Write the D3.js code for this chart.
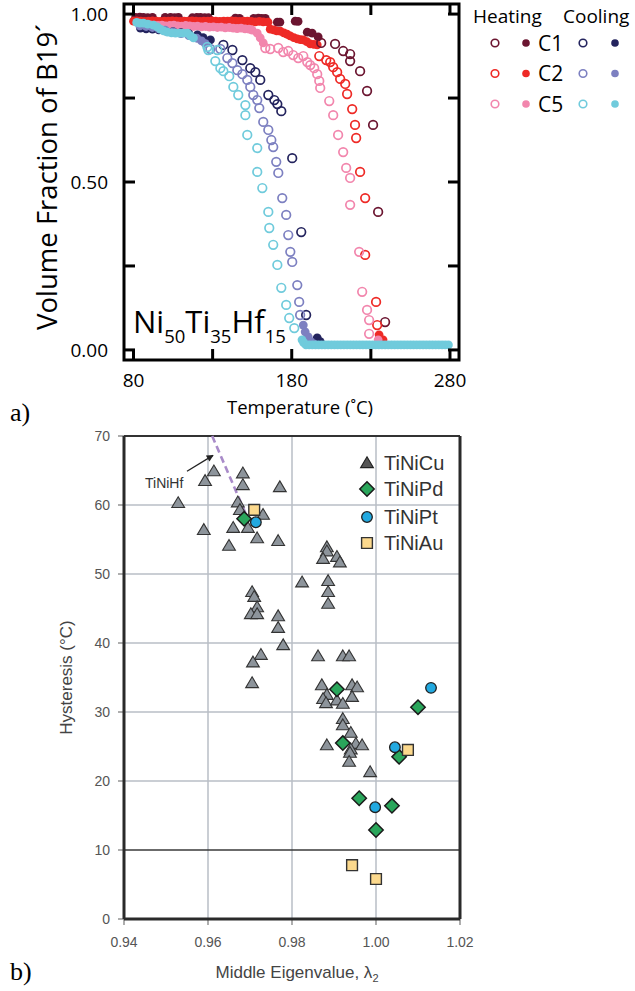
<!DOCTYPE html>
<html>
<head>
<meta charset="utf-8">
<script src="https://cdn.jsdelivr.net/npm/d3@7/dist/d3.min.js"></script>
<style>
  html, body { margin: 0; padding: 0; background: #fff; }
  svg { display: block; }
</style>
</head>
<body>
<svg id="fig" width="635" height="991"></svg>
<script>
// ---------- Panel a: B19' volume fraction vs temperature ----------
// [temperature (°C), volume fraction]
const c1HeatFilled = [[81.3,.990],[84,.991],[86.3,.990],[89,.989],[92,.990],[100,.990],[103.4,.990],[106,.989],[108.4,.990],[117.2,.989],[120,.990],[122.3,.990],[125,.989],[127.4,.989],[144.4,.988],[147,.987],[156,.987],[158.9,.988],[161,.987],[163.3,.987],[170.9,.976],[172.5,.976],[182.2,.979],[184,.978],[189.8,.946],[192.9,.943],[196.7,.932]];
const c1HeatOpen = [[198.6,.914],[207.4,.911],[212.5,.890],[216.9,.881],[216.9,.860],[223.2,.830],[227.6,.771],[231.4,.670],[234.6,.411],[239,.083]];

const c2HeatFilled = [[80,.979],[82,.980],[84.5,.979],[87,.978],[89.5,.979],[92,.980],[94.5,.979],[97,.978],[99.5,.979],[102,.979],[104.5,.980],[107,.979],[109.5,.978],[112,.979],[114.5,.979],[117,.980],[119.5,.979],[122,.978],[124.5,.979],[127,.979],[129.5,.980],[132,.979],[134.5,.978],[137,.979],[139.5,.979],[142,.980],[144.5,.979],[147,.978],[149.5,.979],[152,.979],[154.5,.978],[157,.977],[159.5,.978],[162,.977],[165,.976],[166.4,.955],[168.5,.953],[170.5,.950],[172.7,.949],[175,.944],[177,.940],[179,.935],[181.3,.930],[183.5,.926],[185.5,.924],[187.3,.923],[189.5,.918],[191.7,.911],[194,.910],[196.1,.908],[235.2,.045],[237.7,.030]];
const c2HeatOpen = [[197.4,.875],[201.8,.863],[204.3,.857],[206.2,.842],[208.7,.827],[210.6,.807],[213.8,.792],[215,.762],[218.2,.717],[220,.670],[220.7,.631],[223.2,.530],[226.4,.452],[226.4,.283],[233.3,.143],[234,.074]];

const c5HeatFilled = [[90.7,.968],[93,.967],[95.5,.966],[98,.967],[100.5,.965],[103,.966],[105.5,.967],[108,.965],[110.5,.964],[113,.966],[115.5,.965],[118,.963],[120.5,.964],[123,.962],[125.5,.963],[128,.961],[130.5,.962],[133,.960],[135.5,.961],[138,.959],[140.5,.960],[143,.958],[145.5,.957],[148,.958],[150.5,.956],[153,.955],[155,.952],[158.2,.943],[160.1,.929],[162,.914],[234.6,.030]];
const c5HeatOpen = [[163.3,.899],[166.4,.896],[171.5,.899],[174.6,.887],[177.8,.890],[180.9,.878],[184.1,.869],[187.3,.875],[189.8,.857],[191.7,.848],[194.2,.839],[196.1,.821],[197.4,.801],[198,.780],[203.7,.741],[206.2,.699],[209.3,.640],[212.5,.589],[214.4,.542],[216.9,.512],[216.9,.432],[222.6,.292],[224.5,.173],[227.6,.119],[228.9,.089],[228.9,.048]];

const c1CoolFilled = [[84.4,.958],[88,.956],[92,.955],[96,.953],[100,.950],[105,.948],[110,.945],[115,.942],[120.4,.938],[124,.930],[128.6,.923],[196.1,.036],[198,.025]];
const c1CoolOpen = [[136.8,.908],[142.5,.893],[148.8,.863],[153.8,.839],[157,.827],[160.1,.804],[165.2,.759],[169,.744],[170.9,.732],[173.4,.711],[180.3,.571],[186,.351],[189.1,.104]];

const c2CoolFilled = [[84,.965],[88,.963],[92,.960],[96,.956],[100,.952],[105,.947],[110,.942],[115,.936],[120,.928],[123,.920],[125.4,.912],[187.3,.074],[188.5,.054],[190.4,.039],[192,.025],[194,.018]];
const c2CoolOpen = [[128.6,.896],[134.9,.896],[139.3,.869],[142.5,.854],[145.6,.833],[148.8,.821],[151.9,.804],[153.8,.783],[155.7,.759],[158.2,.744],[159.5,.720],[162,.679],[165.2,.655],[167.1,.625],[168.3,.604],[170.2,.560],[171.5,.527],[174,.452],[176.5,.402],[177.8,.342],[179.1,.292],[180.3,.262],[183.5,.193],[184.7,.143],[185.3,.104]];

const c5CoolFilled = [[82,.975],[84,.973],[86.3,.973],[89,.970],[92.6,.967],[95,.962],[97,.955],[99,.950],[101.5,.946],[104,.944],[106.5,.943],[109,.943],[111.5,.943],[114.1,.943],[116,.935],[117.9,.929],
  [186.5,.030],[187.5,.022],[189,.015],[191,.015],[193,.015],[195,.015],[197,.015],[199,.015],[201,.015],[203,.015],[205,.015],[207,.015],[209,.015],[211,.015],[213,.015],[215,.015],[217,.015],[219,.015],[221,.015],[223,.015],[225,.015],[227,.015],[229,.015],[231,.015],[233,.015],[235,.015],[237,.015],[239,.015],[241,.015],[243,.015],[245,.015],[247,.015],[249,.015],[251,.015],[253,.015],[255,.015],[257,.015],[259,.015],[261,.015],[263,.015],[265,.015],[267,.015],[269,.015],[271,.015],[273,.015],[275,.015],[277,.015],[279,.015]];
const c5CoolOpen = [[126.7,.902],[127.3,.893],[133,.893],[131.7,.860],[134.9,.839],[136.8,.830],[140.5,.815],[143.1,.783],[146.2,.759],[150.7,.729],[150.7,.699],[151.9,.640],[158.2,.601],[158.2,.530],[161.4,.482],[165.2,.411],[165.8,.363],[168.3,.313],[170.9,.253],[173.4,.185],[176.5,.134],[178.4,.095],[181.6,.065]];

const tempTicks = [80, 130, 180, 230, 280];
const tempLabels = [80, 180, 280];
const fracTicks = [0, 0.25, 0.5, 0.75, 1];
const fracLabels = [0, 0.5, 1];

const legendRows = ["C1", "C2", "C5"];

// ---------- Panel b: hysteresis vs middle eigenvalue ----------
// [lambda2, hysteresis (°C)]
const tiNiCu = [[.9529,60.3],[.9593,63.5],[.9614,64.9],[.9590,56.4],[.9650,54.1],[.9660,56.7],[.9683,64.6],[.9683,62.9],[.9671,60.4],[.9676,59.3],[.9771,62.6],[.9731,58.6],[.9695,56.7],[.9717,55.2],[.9767,54.8],
  [.9883,53.9],[.9883,53.3],[.9874,52.2],[.9907,52.5],[.9914,51.7],[.9824,48.8],[.9886,49.0],[.9886,47.4],[.9886,45.7],
  [.9705,47.4],[.9710,46.7],[.9717,45.2],[.9702,44.2],[.9717,44.2],[.9767,43.9],[.9767,42.2],[.9779,39.7],[.9726,38.3],[.9707,37.2],[.9705,34.2],
  [.9862,38.1],[.9921,38.1],[.9936,38.1],[.9871,33.9],[.9943,33.9],[.9955,33.6],[.9883,32.5],[.9874,31.9],[.9881,31.3],[.9907,31.7],[.9921,31.2],[.9943,32.2],
  [.9921,29.0],[.9921,28.1],[.9940,27.0],[.9952,25.4],[.9967,25.2],[.9940,24.6],[.9938,24.1],[.9883,25.2],[.9936,22.8],[.9986,21.3]];
const tiNiPd = [[.9686,58.0],[.9907,33.3],[.9921,25.5],[.9960,17.5],[1.0000,12.9],[1.0038,16.4],[1.0055,23.5],[1.0100,30.7]];
const tiNiPt = [[.9714,57.5],[1.0131,33.5],[1.0045,24.9],[.9998,16.2]];
const tiNiAu = [[.9710,59.3],[1.0076,24.5],[.9943,7.8],[1.0000,5.8]];
const tiNiHfTrend = [[.9610,70],[.9695,58]];

const eigTicks = [0.94, 0.96, 0.98, 1.00, 1.02];
const hystTicks = [0, 10, 20, 30, 40, 50, 60, 70];
const alloyNames = ["TiNiCu", "TiNiPd", "TiNiPt", "TiNiAu"];

// ====================================================================
const svg = d3.select("#fig");
const SANS = "'Open Sans', 'Noto Sans', sans-serif";
const HELV = "'Liberation Sans', Arial, sans-serif";
const SERIF = "'Liberation Serif', 'DejaVu Serif', serif";

const col = {
  c1h: "#6b1530", c2h: "#ee2a26", c5h: "#f286ad",
  c1c: "#24245e", c2c: "#7d80c1", c5c: "#70cbdc"
};

// ----- panel a -----
const x1 = d3.scaleLinear().domain([74, 285.7]).range([124, 459]);
const y1 = d3.scaleLinear().domain([-0.03, 1.03]).range([360, 4]);
const a = svg.append("g");

function filled(data, c, r) {
  a.append("g").selectAll("circle").data(data).join("circle")
    .attr("cx", d => x1(d[0])).attr("cy", d => y1(d[1])).attr("r", r || 4.4)
    .attr("fill", c);
}
function open(data, c) {
  a.append("g").selectAll("circle").data(data).join("circle")
    .attr("cx", d => x1(d[0])).attr("cy", d => y1(d[1])).attr("r", 4.3)
    .attr("fill", "none").attr("stroke", c).attr("stroke-width", 1.7);
}

filled(c1HeatFilled, col.c1h);
filled(c2HeatFilled, col.c2h);
filled(c5HeatFilled, col.c5h);
filled(c1CoolFilled, col.c1c);
filled(c2CoolFilled, col.c2c);
filled(c5CoolFilled, col.c5c);
open(c1HeatOpen, col.c1h);
open(c2HeatOpen, col.c2h);
open(c5HeatOpen, col.c5h);
open(c1CoolOpen, col.c1c);
open(c2CoolOpen, col.c2c);
open(c5CoolOpen, col.c5c);

// frame and inward ticks on all four sides
const [xa0, xa1] = x1.range();
const [ya0, ya1] = y1.range();
a.append("rect").attr("x", xa0).attr("y", ya1).attr("width", xa1 - xa0).attr("height", ya0 - ya1)
  .attr("fill", "none").attr("stroke", "#000").attr("stroke-width", 3);
const tl = 11;
tempTicks.forEach(v => {
  a.append("line").attr("x1", x1(v)).attr("x2", x1(v)).attr("y1", ya0).attr("y2", ya0 - tl).attr("stroke", "#000").attr("stroke-width", 3);
  a.append("line").attr("x1", x1(v)).attr("x2", x1(v)).attr("y1", ya1).attr("y2", ya1 + tl).attr("stroke", "#000").attr("stroke-width", 3);
});
fracTicks.forEach(v => {
  a.append("line").attr("y1", y1(v)).attr("y2", y1(v)).attr("x1", xa0).attr("x2", xa0 + tl).attr("stroke", "#000").attr("stroke-width", 3);
  a.append("line").attr("y1", y1(v)).attr("y2", y1(v)).attr("x1", xa1).attr("x2", xa1 - tl).attr("stroke", "#000").attr("stroke-width", 3);
});
tempLabels.forEach(v => {
  a.append("text").attr("x", x1(v)).attr("y", 387).attr("text-anchor", "middle")
    .attr("font-family", SANS).attr("font-size", 19).text(v);
});
fracLabels.forEach(v => {
  a.append("text").attr("x", 108).attr("y", y1(v) + 7).attr("text-anchor", "end")
    .attr("font-family", SANS).attr("font-size", 19).text(d3.format(".2f")(v));
});
a.append("text").attr("x", 300).attr("y", 414).attr("text-anchor", "middle")
  .attr("font-family", SANS).attr("font-size", 18.5).text("Temperature (˚C)");
a.append("text").attr("transform", `translate(57,${(ya0 + ya1) / 2 - 5}) rotate(-90)`).attr("text-anchor", "middle")
  .attr("font-family", SANS).attr("font-size", 27.5).text("Volume Fraction of B19´");

// alloy composition
const comp = a.append("text").attr("x", 133).attr("y", 333).attr("font-family", SANS).attr("font-size", 31);
[["Ni", false], ["50", true], ["Ti", false], ["35", true], ["Hf", false], ["15", true]].forEach(([t, sub]) => {
  comp.append("tspan").attr("font-size", sub ? 18.5 : 31).attr("dy", sub ? 10 : -10).text(t);
});
comp.select("tspan").attr("dy", 0);

a.append("text").attr("x", 10).attr("y", 421).attr("font-family", SERIF).attr("font-size", 26).text("a)");

// legend
a.append("text").attr("x", 473).attr("y", 23).attr("font-family", SANS).attr("font-size", 19).text("Heating");
a.append("text").attr("x", 563).attr("y", 23).attr("font-family", SANS).attr("font-size", 19).text("Cooling");
const legendCols = [[col.c1h, col.c1c], [col.c2h, col.c2c], [col.c5h, col.c5c]];
legendRows.forEach((name, i) => {
  const cy = 43 + i * 30.5;
  const [h, c] = legendCols[i];
  a.append("circle").attr("cx", 495).attr("cy", cy).attr("r", 3.8).attr("fill", "none").attr("stroke", h).attr("stroke-width", 1.6);
  a.append("circle").attr("cx", 526).attr("cy", cy).attr("r", 3.8).attr("fill", h);
  a.append("text").attr("x", 538).attr("y", cy + 7.5).attr("font-family", SANS).attr("font-size", 21).text(name);
  a.append("circle").attr("cx", 583).attr("cy", cy).attr("r", 3.8).attr("fill", "none").attr("stroke", c).attr("stroke-width", 1.6);
  a.append("circle").attr("cx", 615).attr("cy", cy).attr("r", 3.8).attr("fill", c);
});

// ----- panel b -----
const x2 = d3.scaleLinear().domain([0.94, 1.02]).range([124, 460]);
const y2 = d3.scaleLinear().domain([0, 70]).range([919, 436]);
const b = svg.append("g");

// grid
eigTicks.slice(1, -1).forEach(v => {
  b.append("line").attr("x1", x2(v)).attr("x2", x2(v)).attr("y1", y2(0)).attr("y2", y2(70))
    .attr("stroke", "#b9bec6").attr("stroke-width", 1.5);
});
hystTicks.slice(1, -1).forEach(v => {
  b.append("line").attr("x1", x2(0.94)).attr("x2", x2(1.02)).attr("y1", y2(v)).attr("y2", y2(v))
    .attr("stroke", v === 10 ? "#3a3a3a" : "#b9bec6").attr("stroke-width", 1.5);
});
// outer ticks
hystTicks.forEach(v => {
  b.append("line").attr("x1", x2(0.94) - 6).attr("x2", x2(0.94)).attr("y1", y2(v)).attr("y2", y2(v)).attr("stroke", "#777").attr("stroke-width", 1.2);
  b.append("text").attr("x", 110).attr("y", y2(v) + 5).attr("text-anchor", "end")
    .attr("font-family", HELV).attr("font-size", 14).attr("fill", "#555").text(v);
});
eigTicks.forEach(v => {
  b.append("line").attr("x1", x2(v)).attr("x2", x2(v)).attr("y1", y2(0)).attr("y2", y2(0) + 6).attr("stroke", "#777").attr("stroke-width", 1.2);
  b.append("text").attr("x", x2(v)).attr("y", 947).attr("text-anchor", "middle")
    .attr("font-family", HELV).attr("font-size", 14).attr("fill", "#555").text(d3.format(".2f")(v));
});
// frame
b.append("line").attr("x1", x2(0.94)).attr("x2", x2(1.02)).attr("y1", y2(70)).attr("y2", y2(70)).attr("stroke", "#333").attr("stroke-width", 2);
b.append("line").attr("x1", x2(0.94)).attr("x2", x2(1.02)).attr("y1", y2(0)).attr("y2", y2(0)).attr("stroke", "#2a2a2a").attr("stroke-width", 3);
b.append("line").attr("x1", x2(0.94)).attr("x2", x2(0.94)).attr("y1", y2(0)).attr("y2", y2(70)).attr("stroke", "#2a2a2a").attr("stroke-width", 3);
b.append("line").attr("x1", x2(1.02)).attr("x2", x2(1.02)).attr("y1", y2(0)).attr("y2", y2(70)).attr("stroke", "#2a2a2a").attr("stroke-width", 3);

// TiNiHf trend and annotation
b.append("path").attr("d", d3.line().x(d => x2(d[0])).y(d => y2(d[1]))(tiNiHfTrend))
  .attr("stroke", "#a98bc9").attr("stroke-width", 2.6).attr("stroke-dasharray", "7,4").attr("fill", "none");
svg.append("defs").append("marker").attr("id", "arr").attr("viewBox", "0 0 10 10")
  .attr("refX", 9).attr("refY", 5).attr("markerWidth", 9).attr("markerHeight", 7).attr("orient", "auto")
  .attr("markerUnits", "userSpaceOnUse")
  .append("path").attr("d", "M0,0 L10,5 L0,10 Z").attr("fill", "#222");
b.append("line").attr("x1", x2(0.9550)).attr("y1", y2(64.9)).attr("x2", x2(0.9612)).attr("y2", y2(67.2))
  .attr("stroke", "#222").attr("stroke-width", 1.3).attr("marker-end", "url(#arr)");
b.append("text").attr("x", x2(0.9450)).attr("y", y2(62.5)).attr("font-family", HELV).attr("font-size", 14)
  .attr("fill", "#333").text("TiNiHf");

// markers
const triPath = "M0,-6.2 L6.4,4.6 L-6.4,4.6 Z";
const diaPath = "M0,-7.2 L7.2,0 L0,7.2 L-7.2,0 Z";
const sqPath = "M-5.4,-5.4 H5.4 V5.4 H-5.4 Z";
function marks(data, path, fill, stroke, sw) {
  b.append("g").selectAll("path").data(data).join("path")
    .attr("transform", d => `translate(${x2(d[0])},${y2(d[1])})`)
    .attr("d", path).attr("fill", fill).attr("stroke", stroke).attr("stroke-width", sw);
}
marks(tiNiCu, triPath, "#8d949b", "#333", 1.1);
marks(tiNiPd, diaPath, "#2aa65b", "#1a1a1a", 1.5);
b.append("g").selectAll("circle").data(tiNiPt).join("circle")
  .attr("cx", d => x2(d[0])).attr("cy", d => y2(d[1])).attr("r", 5.3)
  .attr("fill", "#22a9e0").attr("stroke", "#1f1f1f").attr("stroke-width", 1.3);
marks(tiNiAu, sqPath, "#fcd98d", "#333", 1.4);

// legend
const legY = [463, 489, 517, 543];
const legendMarks = [
  g => g.append("path").attr("d", triPath).attr("fill", "#555").attr("stroke", "#222").attr("stroke-width", 1.1),
  g => g.append("path").attr("d", diaPath).attr("fill", "#2aa65b").attr("stroke", "#1a1a1a").attr("stroke-width", 1.5),
  g => g.append("circle").attr("r", 5.3).attr("fill", "#22a9e0").attr("stroke", "#1f1f1f").attr("stroke-width", 1.3),
  g => g.append("path").attr("d", sqPath).attr("fill", "#fcd98d").attr("stroke", "#333").attr("stroke-width", 1.4)
];
alloyNames.forEach((n, i) => {
  const g = b.append("g").attr("transform", `translate(367,${legY[i]})`);
  legendMarks[i](g);
  b.append("text").attr("x", 384).attr("y", legY[i] + 7).attr("font-family", HELV).attr("font-size", 20)
    .attr("fill", "#333").text(n);
});

// axis titles
const xt = b.append("text").attr("x", 297).attr("y", 978).attr("text-anchor", "middle")
  .attr("font-family", HELV).attr("font-size", 17).attr("fill", "#444");
xt.append("tspan").text("Middle Eigenvalue, λ");
xt.append("tspan").attr("font-size", 11).attr("dy", 4).text("2");
b.append("text").attr("transform", `translate(72,${(y2(0) + y2(70)) / 2}) rotate(-90)`).attr("text-anchor", "middle")
  .attr("font-family", HELV).attr("font-size", 17).attr("fill", "#444").text("Hysteresis (°C)");
b.append("text").attr("x", 10).attr("y", 980).attr("font-family", SERIF).attr("font-size", 26).text("b)");
</script>
</body>
</html>
